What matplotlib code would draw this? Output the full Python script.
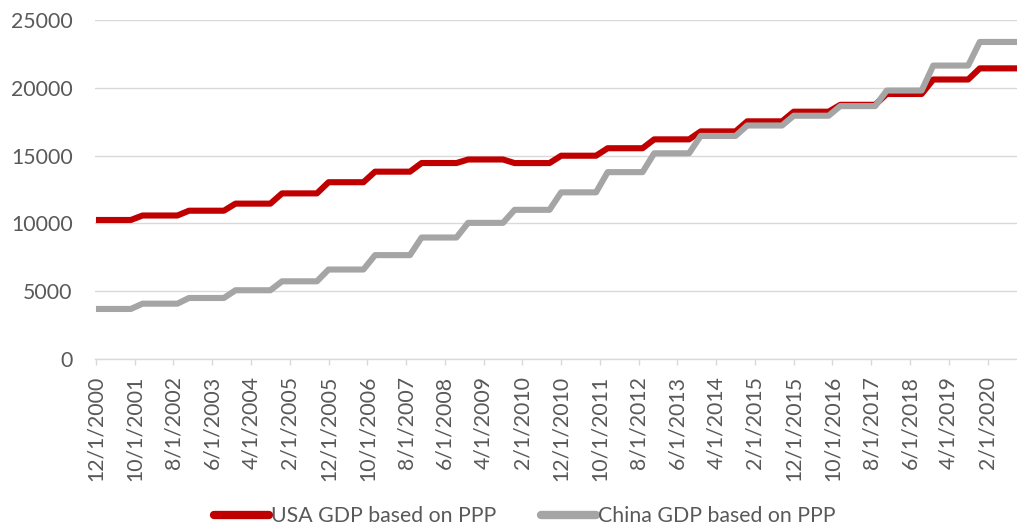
import numpy as np
import pandas as pd
import matplotlib
matplotlib.use('Agg')
import matplotlib.pyplot as plt

# yearly values (billions), each held from December to the following September
years = list(range(2000, 2020))
usa = [10252, 10582, 10936, 11458, 12214, 13037, 13815, 14452, 14713, 14449,
       14992, 15543, 16197, 16785, 17527, 18238, 18745, 19543, 20612, 21433]
china = [3690, 4080, 4500, 5070, 5730, 6600, 7660, 8960, 10040, 11000,
         12290, 13780, 15170, 16450, 17220, 17940, 18650, 19800, 21640, 23380]

tick_dates = pd.date_range('2000-12-01', '2020-02-01', freq='10MS')
tick_labels = [f'{d.month}/{d.day}/{d.year}' for d in tick_dates]
last_date = pd.Timestamp('2020-12-01')

RED = '#C00000'
GREY = '#A5A5A5'
TXT = '#595959'
GRID = '#D9D9D9'
FS = 15.3


def month_index(d):
    return (d.year - 2000) * 12 + d.month - 12


def plateau_points(vals):
    xs, ys = [], []
    for y, v in zip(years, vals):
        start = pd.Timestamp(y, 12, 1)
        end = pd.Timestamp(y + 1, 9, 1) if y != years[-1] else last_date
        xs += [month_index(start), month_index(end)]
        ys += [v, v]
    return xs, ys


plt.rcParams['font.family'] = ['Lato', 'DejaVu Sans']

fig = plt.figure(figsize=(10.17, 5.29), dpi=100)
ax = fig.add_axes([95 / 1017, 1 - 359 / 529, 922 / 1017, 339 / 529])

x, y = plateau_points(usa)
ax.plot(x, y, color=RED, lw=4.4, solid_joinstyle='round', solid_capstyle='butt',
        label='USA GDP based on PPP', zorder=3)
x, y = plateau_points(china)
ax.plot(x, y, color=GREY, lw=4.4, solid_joinstyle='round', solid_capstyle='butt',
        label='China GDP based on PPP', zorder=4)

ax.set_ylim(0, 25000)
ax.set_yticks(np.arange(0, 25001, 5000))
ax.set_xlim(-0.25, 237.6)
ax.set_xticks([month_index(d) for d in tick_dates])
ax.set_xticklabels(tick_labels, rotation=90)

ax.grid(axis='y', color=GRID, lw=1)
ax.set_axisbelow(True)
for s in ['top', 'right', 'left']:
    ax.spines[s].set_visible(False)
ax.spines['bottom'].set_color(GRID)
ax.spines['bottom'].set_linewidth(1)

ax.tick_params(axis='y', length=0, pad=16, labelsize=FS, labelcolor=TXT)
ax.tick_params(axis='x', length=4, color=GRID, width=1, pad=8,
               labelsize=FS, labelcolor=TXT)

leg = fig.legend(loc='center', bbox_to_anchor=(0.516, 0.024), ncol=2,
                 frameon=False, fontsize=FS, handlelength=2.6,
                 handletextpad=0.1, columnspacing=2.1)
for t in leg.get_texts():
    t.set_color(TXT)
for h in leg.get_lines():
    h.set_linewidth(6)
    h.set_solid_capstyle('round')

fig.savefig('out.png', dpi=100)
